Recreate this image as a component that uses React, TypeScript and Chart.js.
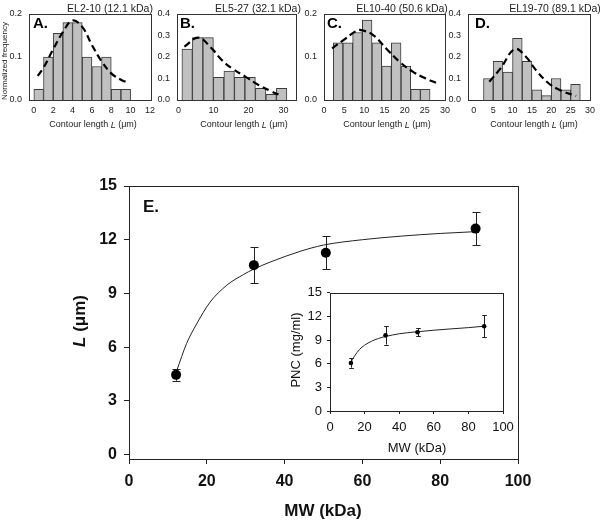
import React, { useEffect, useRef } from 'react';
import { Chart, registerables } from 'chart.js';
Chart.register(...registerables);

const F = '"Liberation Sans", Arial, Helvetica, sans-serif';

// ---------- Histogram data ----------
const A_CENTERS = [0.5, 1.5, 2.5, 3.5, 4.5, 5.5, 6.5, 7.5, 8.5, 9.5];
const A_FREQ = [0.025, 0.1, 0.155, 0.18, 0.18, 0.1, 0.078, 0.1, 0.025, 0.025];
const A_FIT_X = [0.4, 1, 2, 3, 4, 5, 6, 7, 8, 9, 9.5];
const A_FIT_Y = [0.056, 0.075, 0.118, 0.158, 0.185, 0.17, 0.128, 0.09, 0.062, 0.047, 0.042];
const A_XTICKS = [0, 2, 4, 6, 8, 10, 12];
const A_YTICKS = [0, 0.1, 0.2];

const B_CENTERS = [2.5, 5.5, 8.5, 11.5, 14.5, 17.5, 20.5, 23.5, 26.5, 29.5];
const B_FREQ = [0.237, 0.29, 0.29, 0.105, 0.135, 0.105, 0.105, 0.054, 0.026, 0.054];
const B_FIT_X = [1.7, 5.7, 9.5, 12.4, 15.3, 19.1, 22.9, 26.7, 28.6];
const B_FIT_Y = [0.248, 0.29, 0.24, 0.186, 0.147, 0.109, 0.07, 0.039, 0.026];
const B_XTICKS = [0, 10, 20, 30];
const B_YTICKS = [0, 0.1, 0.2, 0.3, 0.4];

const C_CENTERS = [3.5, 5.9, 8.3, 10.7, 13.1, 15.5, 17.9, 20.3, 22.7, 25.1];
const C_FREQ = [0.133, 0.133, 0.157, 0.186, 0.133, 0.079, 0.133, 0.079, 0.025, 0.025];
const C_FIT_X = [2.0, 4.9, 7.7, 8.9, 12.2, 15.4, 18.7, 22, 25.2, 27.8];
const C_FIT_Y = [0.12, 0.14, 0.159, 0.163, 0.151, 0.12, 0.089, 0.066, 0.05, 0.04];
const C_XTICKS = [0, 5, 10, 15, 20, 25, 30];
const C_YTICKS = [0, 0.1, 0.2];

const D_CENTERS = [3.75, 6.25, 8.75, 11.25, 13.75, 16.25, 18.75, 21.25, 23.75, 26.25];
const D_FREQ = [0.1, 0.18, 0.13, 0.287, 0.18, 0.047, 0.02, 0.1, 0.047, 0.073];
const D_FIT_X = [4.0, 6.9, 10.6, 13.5, 16, 19.3, 22.6, 26.4];
const D_FIT_Y = [0.085, 0.147, 0.237, 0.2, 0.14, 0.078, 0.043, 0.019];
const D_XTICKS = [0, 5, 10, 15, 20, 25, 30];
const D_YTICKS = [0, 0.1, 0.2, 0.3, 0.4];

// ---------- Main chart data ----------
const MW = [12.1, 32.1, 50.6, 89.1];
const L_UM = [4.45, 10.58, 11.27, 12.62];
const L_ERR = [0.33, 1.0, 0.92, 0.93];
const L_FIT_X = [12.3, 14.8, 17.4, 20.8, 25.1, 29.4, 32.0, 36.3, 44, 50, 60, 70, 80, 89.1];
const L_FIT_Y = [4.7, 6.2, 7.3, 8.5, 9.45, 10.05, 10.35, 10.75, 11.35, 11.7, 12.0, 12.2, 12.35, 12.45];
const MAIN_XTICKS = [0, 20, 40, 60, 80, 100];
const MAIN_YTICKS = [0, 3, 6, 9, 12, 15];

// ---------- Inset data ----------
const PNC = [6.1, 9.6, 10.0, 10.76];
const PNC_ERR = [0.6, 1.17, 0.53, 1.4];
const PNC_FIT_X = [12.1, 14, 17, 20, 24, 28, 32, 40, 50, 60, 70, 80, 89.1];
const PNC_FIT_Y = [6.2, 6.9, 7.8, 8.35, 8.85, 9.2, 9.45, 9.8, 10.05, 10.25, 10.42, 10.58, 10.76];
const INSET_XTICKS = [0, 20, 40, 60, 80, 100];
const INSET_YTICKS = [0, 3, 6, 9, 12, 15];

type Box = { left: number; top: number; width: number; height: number };
type Area = { l: number; r: number; t: number; b: number };
type TextItem = { x: number; y: number; rot?: number; align?: 'left' | 'center'; parts: [string, string][]; color?: string };

function textPlugin(items: TextItem[], box: Box) {
  return {
    id: 'texts',
    afterDraw(chart: any) {
      const ctx = chart.ctx;
      for (const it of items) {
        ctx.save();
        ctx.translate(it.x - box.left, it.y - box.top);
        if (it.rot) ctx.rotate(it.rot);
        ctx.textBaseline = 'middle';
        ctx.textAlign = 'left';
        ctx.fillStyle = it.color || '#111';
        let total = 0;
        const widths = it.parts.map(([t, f]) => {
          ctx.font = f;
          const w = ctx.measureText(t).width;
          total += w;
          return w;
        });
        let x = it.align === 'left' ? 0 : -total / 2;
        it.parts.forEach(([t, f], i) => {
          ctx.font = f;
          ctx.fillText(t, x, 0);
          x += widths[i];
        });
        ctx.restore();
      }
    },
  };
}

function framePlugin(color: string, lw: number) {
  return {
    id: 'frame',
    afterDatasetsDraw(chart: any) {
      const { left, right, top, bottom } = chart.chartArea;
      const ctx = chart.ctx;
      ctx.save();
      ctx.strokeStyle = color;
      ctx.lineWidth = lw;
      const l = Math.round(left) + 0.5;
      const t = Math.round(top) + 0.5;
      ctx.strokeRect(l, t, Math.round(right) - Math.round(left), Math.round(bottom) - Math.round(top));
      ctx.restore();
    },
  };
}

function errorBarPlugin(dsIndex: number, errs: number[], cap: number, color: string, lw: number) {
  return {
    id: 'errbars',
    beforeDatasetsDraw(chart: any) {
      const meta = chart.getDatasetMeta(dsIndex);
      const ys = chart.scales.y;
      const ctx = chart.ctx;
      const data = chart.data.datasets[dsIndex].data;
      ctx.save();
      ctx.strokeStyle = color;
      ctx.lineWidth = lw;
      meta.data.forEach((pt: any, i: number) => {
        const v = data[i].y;
        const top = ys.getPixelForValue(v + errs[i]);
        const bot = ys.getPixelForValue(v - errs[i]);
        const x = Math.round(pt.x) + 0.5;
        ctx.beginPath();
        ctx.moveTo(x, top);
        ctx.lineTo(x, bot);
        ctx.moveTo(x - cap, Math.round(top) + 0.5);
        ctx.lineTo(x + cap, Math.round(top) + 0.5);
        ctx.moveTo(x - cap, Math.round(bot) + 0.5);
        ctx.lineTo(x + cap, Math.round(bot) + 0.5);
        ctx.stroke();
      });
      ctx.restore();
    },
  };
}

function pts(xs: number[], ys: number[]) {
  return xs.map((x, i) => ({ x, y: ys[i] }));
}

type HistSpec = {
  box: Box; area: Area; centers: number[]; freqs: number[]; fitX: number[]; fitY: number[];
  xMin: number; xMax: number; xTicks: number[]; yMax: number; yTicks: number[]; texts: TextItem[];
};

function histConfig(p: HistSpec): any {
  const padTop = p.area.t - p.box.top;
  const padRight = p.box.left + p.box.width - p.area.r;
  const yW = p.area.l - p.box.left;
  const xH = p.box.top + p.box.height - p.area.b;
  return {
    type: 'bar',
    data: {
      datasets: [
        {
          type: 'line', data: pts(p.fitX, p.fitY), borderColor: '#000', borderWidth: 2.2,
          borderDash: [7, 4], pointRadius: 0, tension: 0.4, fill: false,
        },
        {
          type: 'bar', data: pts(p.centers, p.freqs), backgroundColor: '#c0c0c0', borderColor: '#3c3c3c',
          borderWidth: 1, categoryPercentage: 1, barPercentage: 1,
        },
      ],
    },
    options: {
      responsive: true, maintainAspectRatio: false, animation: false,
      layout: { padding: { top: padTop, right: padRight, left: 0, bottom: 0 } },
      plugins: { legend: { display: false }, tooltip: { enabled: false } },
      scales: {
        x: {
          type: 'linear', min: p.xMin, max: p.xMax, offset: false,
          grid: { display: false, drawTicks: false, offset: false }, border: { display: false },
          ticks: { font: { family: F, size: 9 }, color: '#222', padding: 5, maxRotation: 0, autoSkip: false },
          afterBuildTicks: (s: any) => { s.ticks = p.xTicks.map((v) => ({ value: v })); },
          afterFit: (s: any) => { s.height = xH; },
        },
        y: {
          type: 'linear', min: 0, max: p.yMax,
          grid: { display: false, drawTicks: false }, border: { display: false },
          ticks: { font: { family: F, size: 9 }, color: '#222', padding: 7, callback: (v: any) => Number(v).toFixed(1) },
          afterBuildTicks: (s: any) => { s.ticks = p.yTicks.map((v) => ({ value: v })); },
          afterFit: (s: any) => { s.width = yW; },
        },
      },
    },
    plugins: [framePlugin('#333', 1), textPlugin(p.texts, p.box)],
  };
}

const TITLE_FONT = `10.5px ${F}`;
const LETTER_FONT = `bold 15px ${F}`;
const XT = `9px ${F}`;
const XTI = `italic 9px ${F}`;
const xTitle = (x: number): TextItem => ({ x, y: 125, parts: [['Contour length ', XT], ['L', XTI], [' (\u03bcm)', XT]], color: '#222' });

const boxA: Box = { left: 0, top: 0, width: 160, height: 140 };
const boxB: Box = { left: 150, top: 0, width: 155, height: 140 };
const boxC: Box = { left: 298, top: 0, width: 157, height: 140 };
const boxD: Box = { left: 445, top: 0, width: 155, height: 140 };

const histSpecs: HistSpec[] = [
  {
    box: boxA, area: { l: 29, r: 155, t: 14, b: 100 }, centers: A_CENTERS, freqs: A_FREQ, fitX: A_FIT_X, fitY: A_FIT_Y,
    xMin: -0.5, xMax: 12.1, xTicks: A_XTICKS, yMax: 0.2, yTicks: A_YTICKS,
    texts: [
      { x: 110, y: 9, parts: [['EL2-10 (12.1 kDa)', TITLE_FONT]], color: '#222' },
      { x: 33, y: 24, align: 'left', parts: [['A.', LETTER_FONT]], color: '#000' },
      { x: 5, y: 61, rot: -Math.PI / 2, parts: [['Normalized frequency', `8px ${F}`]], color: '#222' },
      xTitle(93),
    ],
  },
  {
    box: boxB, area: { l: 177, r: 296, t: 14, b: 100 }, centers: B_CENTERS, freqs: B_FREQ, fitX: B_FIT_X, fitY: B_FIT_Y,
    xMin: -0.4, xMax: 33.6, xTicks: B_XTICKS, yMax: 0.4, yTicks: B_YTICKS,
    texts: [
      { x: 258, y: 9, parts: [['EL5-27 (32.1 kDa)', TITLE_FONT]], color: '#222' },
      { x: 180, y: 24, align: 'left', parts: [['B.', LETTER_FONT]], color: '#000' },
      xTitle(244),
    ],
  },
  {
    box: boxC, area: { l: 324, r: 448, t: 14, b: 100 }, centers: C_CENTERS, freqs: C_FREQ, fitX: C_FIT_X, fitY: C_FIT_Y,
    xMin: 0, xMax: 30, xTicks: C_XTICKS, yMax: 0.2, yTicks: C_YTICKS,
    texts: [
      { x: 402, y: 9, parts: [['EL10-40 (50.6 kDa)', TITLE_FONT]], color: '#222' },
      { x: 327, y: 24, align: 'left', parts: [['C.', LETTER_FONT]], color: '#000' },
      xTitle(387),
    ],
  },
  {
    box: boxD, area: { l: 468, r: 594, t: 14, b: 100 }, centers: D_CENTERS, freqs: D_FREQ, fitX: D_FIT_X, fitY: D_FIT_Y,
    xMin: -1.5, xMax: 30, xTicks: D_XTICKS, yMax: 0.4, yTicks: D_YTICKS,
    texts: [
      { x: 555, y: 9, parts: [['EL19-70 (89.1 kDa)', TITLE_FONT]], color: '#222' },
      { x: 475, y: 24, align: 'left', parts: [['D.', LETTER_FONT]], color: '#000' },
      xTitle(534),
    ],
  },
];

const mainBox: Box = { left: 0, top: 0, width: 600, height: 520 };
const mainArea: Area = { l: 129, r: 518, t: 186, b: 459 };

function mainConfig(): any {
  const box = mainBox, area = mainArea;
  const texts: TextItem[] = [
    { x: 143, y: 207, align: 'left', parts: [['E.', `bold 17px ${F}`]], color: '#111' },
    { x: 80, y: 321, rot: -Math.PI / 2, parts: [['L', `italic bold 17px ${F}`], [' (\u03bcm)', `bold 17px ${F}`]], color: '#111' },
    { x: 323, y: 511, parts: [['MW (kDa)', `bold 17px ${F}`]], color: '#111' },
  ];
  return {
    type: 'scatter',
    data: {
      datasets: [
        { data: pts(MW, L_UM), pointRadius: 5, pointBackgroundColor: '#000', pointBorderColor: '#000', pointBorderWidth: 0, showLine: false },
        { data: pts(L_FIT_X, L_FIT_Y), showLine: true, borderColor: '#222', borderWidth: 1, pointRadius: 0, tension: 0.4, cubicInterpolationMode: 'monotone' },
      ],
    },
    options: {
      responsive: true, maintainAspectRatio: false, animation: false,
      layout: { padding: { top: area.t - box.top, right: box.left + box.width - area.r, left: 0, bottom: 0 } },
      plugins: { legend: { display: false }, tooltip: { enabled: false } },
      scales: {
        x: {
          type: 'linear', min: 0, max: 100,
          grid: { display: true, drawOnChartArea: false, drawTicks: true, tickLength: 5, color: '#222' }, border: { display: false },
          ticks: { font: { family: F, size: 16, weight: 'bold' }, color: '#111', padding: 8, maxRotation: 0, autoSkip: false },
          afterBuildTicks: (s: any) => { s.ticks = MAIN_XTICKS.map((v) => ({ value: v })); },
          afterFit: (s: any) => { s.height = box.top + box.height - area.b; },
        },
        y: {
          type: 'linear', min: -0.25, max: 15,
          grid: { display: true, drawOnChartArea: false, drawTicks: true, tickLength: 5, color: '#222' }, border: { display: false },
          ticks: { font: { family: F, size: 16, weight: 'bold' }, color: '#111', padding: 7 },
          afterBuildTicks: (s: any) => { s.ticks = MAIN_YTICKS.map((v) => ({ value: v })); },
          afterFit: (s: any) => { s.width = area.l - box.left; },
        },
      },
    },
    plugins: [errorBarPlugin(0, L_ERR, 4, '#222', 1), framePlugin('#222', 1), textPlugin(texts, box)],
  };
}

const insetBox: Box = { left: 275, top: 280, width: 245, height: 180 };
const insetArea: Area = { l: 330, r: 503, t: 290, b: 411 };

function insetConfig(): any {
  const box = insetBox, area = insetArea;
  const texts: TextItem[] = [
    { x: 296, y: 350, rot: -Math.PI / 2, parts: [['PNC (mg/ml)', `13px ${F}`]], color: '#111' },
    { x: 417, y: 448, parts: [['MW (kDa)', `13px ${F}`]], color: '#111' },
  ];
  return {
    type: 'scatter',
    data: {
      datasets: [
        { data: pts(MW, PNC), pointRadius: 2.3, pointBackgroundColor: '#000', pointBorderColor: '#000', pointBorderWidth: 0, showLine: false },
        { data: pts(PNC_FIT_X, PNC_FIT_Y), showLine: true, borderColor: '#222', borderWidth: 1, pointRadius: 0, tension: 0.4, cubicInterpolationMode: 'monotone' },
      ],
    },
    options: {
      responsive: true, maintainAspectRatio: false, animation: false,
      layout: { padding: { top: area.t - box.top, right: box.left + box.width - area.r, left: 0, bottom: 0 } },
      plugins: { legend: { display: false }, tooltip: { enabled: false } },
      scales: {
        x: {
          type: 'linear', min: 0, max: 100,
          grid: { display: true, drawOnChartArea: false, drawTicks: true, tickLength: 3, color: '#222' }, border: { display: false },
          ticks: { font: { family: F, size: 13 }, color: '#111', padding: 6, maxRotation: 0, autoSkip: false },
          afterBuildTicks: (s: any) => { s.ticks = INSET_XTICKS.map((v) => ({ value: v })); },
          afterFit: (s: any) => { s.height = box.top + box.height - area.b; },
        },
        y: {
          type: 'linear', min: 0, max: 15,
          grid: { display: true, drawOnChartArea: false, drawTicks: true, tickLength: 3, color: '#222' }, border: { display: false },
          ticks: { font: { family: F, size: 13 }, color: '#111', padding: 5 },
          afterBuildTicks: (s: any) => { s.ticks = INSET_YTICKS.map((v) => ({ value: v })); },
          afterFit: (s: any) => { s.width = area.l - box.left; },
        },
      },
    },
    plugins: [errorBarPlugin(0, PNC_ERR, 2.3, '#222', 1), framePlugin('#222', 1), textPlugin(texts, box)],
  };
}

function Panel({ box, build }: { box: Box; build: () => any }) {
  const ref = useRef<HTMLCanvasElement>(null);
  useEffect(() => {
    const chart = new Chart(ref.current as HTMLCanvasElement, build());
    return () => chart.destroy();
  }, []);
  return (
    <div style={{ position: 'absolute', left: box.left, top: box.top, width: box.width, height: box.height }}>
      <canvas ref={ref} />
    </div>
  );
}

export default function App() {
  return (
    <div style={{ position: 'absolute', left: 0, top: 0, width: 600, height: 520, background: '#fff', overflow: 'hidden' }}>
      <Panel box={mainBox} build={mainConfig} />
      <Panel box={insetBox} build={insetConfig} />
      {histSpecs.map((s, i) => (
        <Panel key={i} box={s.box} build={() => histConfig(s)} />
      ))}
    </div>
  );
}
